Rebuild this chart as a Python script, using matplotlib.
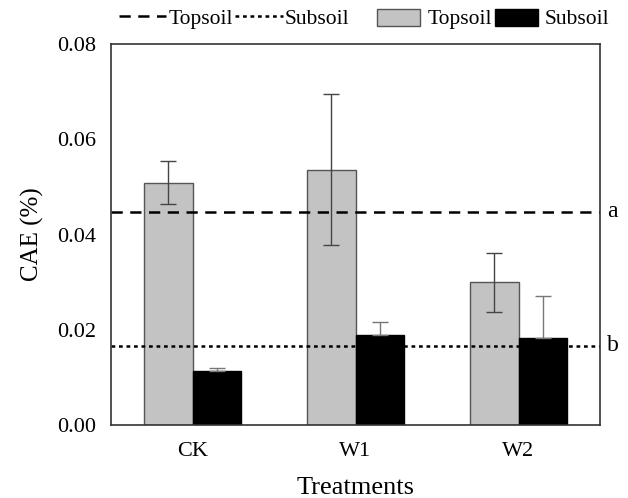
import numpy as np
import matplotlib
matplotlib.use('Agg')
import matplotlib.pyplot as plt
from matplotlib.lines import Line2D
from matplotlib.patches import Patch

plt.rcParams['font.family'] = ['Liberation Serif', 'DejaVu Serif']

# data
treatments = ['CK', 'W1', 'W2']
topsoil = [0.0509, 0.0536, 0.0300]
topsoil_err = [0.0046, 0.0159, 0.0062]
subsoil = [0.0114, 0.0188, 0.0183]
subsoil_err = [0.0006, 0.0029, 0.0087]
mean_topsoil = 0.0448
mean_subsoil = 0.0166
mean_labels = ['a', 'b']

DASH = (0, (4.5, 3))
DOT = (0, (1.5, 1.5))

fig = plt.figure(figsize=(6.28, 4.98), dpi=100)
ax = fig.add_axes([111 / 628, 1 - 425 / 498, 489 / 628, 381 / 498])

x = np.arange(len(treatments))
w = 0.3

ax.bar(x - w / 2, topsoil, w, color='#c3c3c3', edgecolor='#555555', linewidth=1.0)
ax.errorbar(x - w / 2, topsoil, yerr=topsoil_err, fmt='none', ecolor='#444444',
            elinewidth=1.0, capsize=5.5, capthick=1.0)
ax.bar(x + w / 2, subsoil, w, color='black', edgecolor='black', linewidth=1.0)
ax.errorbar(x + w / 2, subsoil, yerr=[np.zeros(len(subsoil)), subsoil_err], fmt='none',
            ecolor='#777777', elinewidth=1.0, capsize=5.5, capthick=1.0)

ax.axhline(mean_topsoil, color='black', linestyle=DASH, linewidth=1.8)
ax.axhline(mean_subsoil, color='black', linestyle=DOT, linewidth=1.8)
ax.text(1.015, mean_topsoil, mean_labels[0], transform=ax.get_yaxis_transform(),
        va='center', ha='left', fontsize=17)
ax.text(1.015, mean_subsoil, mean_labels[1], transform=ax.get_yaxis_transform(),
        va='center', ha='left', fontsize=17)

ax.set_xlim(-0.5, 2.5)
ax.set_ylim(0, 0.08)
ax.set_yticks([0.0, 0.02, 0.04, 0.06, 0.08])
ax.set_yticklabels(['0.00', '0.02', '0.04', '0.06', '0.08'])
ax.set_xticks(x)
ax.set_xticklabels(treatments)
ax.tick_params(axis='both', length=0, labelsize=16)
ax.tick_params(axis='x', pad=12)
ax.tick_params(axis='y', pad=11)
for lab in ax.get_yticklabels():
    lab.set_va('center_baseline')
for s in ax.spines.values():
    s.set_linewidth(1.2)
    s.set_color('#333333')

ax.set_ylabel('CAE (%)', fontsize=18, labelpad=9)
ax.set_xlabel('Treatments', fontsize=19, labelpad=12)

line_handles = [Line2D([], [], color='black', linestyle=DASH, linewidth=1.8),
                Line2D([], [], color='black', linestyle=DOT, linewidth=1.8)]
leg1 = fig.legend(line_handles, ['Topsoil', 'Subsoil'], loc='center left',
                  bbox_to_anchor=(119 / 628, 1 - 19 / 498), ncol=2, frameon=False,
                  fontsize=15.5, handlelength=2.2, handletextpad=0.1, columnspacing=0.1,
                  borderpad=0, borderaxespad=0)
patch_handles = [Patch(facecolor='#c3c3c3', edgecolor='#555555'),
                 Patch(facecolor='black', edgecolor='black')]
leg2 = fig.legend(patch_handles, ['Topsoil', 'Subsoil'], loc='center left',
                  bbox_to_anchor=(377 / 628, 1 - 19 / 498), ncol=2, frameon=False,
                  fontsize=15.5, handlelength=2.0, handleheight=0.84, handletextpad=0.33,
                  columnspacing=0.15, borderpad=0, borderaxespad=0)

fig.savefig('out.png', dpi=100)
